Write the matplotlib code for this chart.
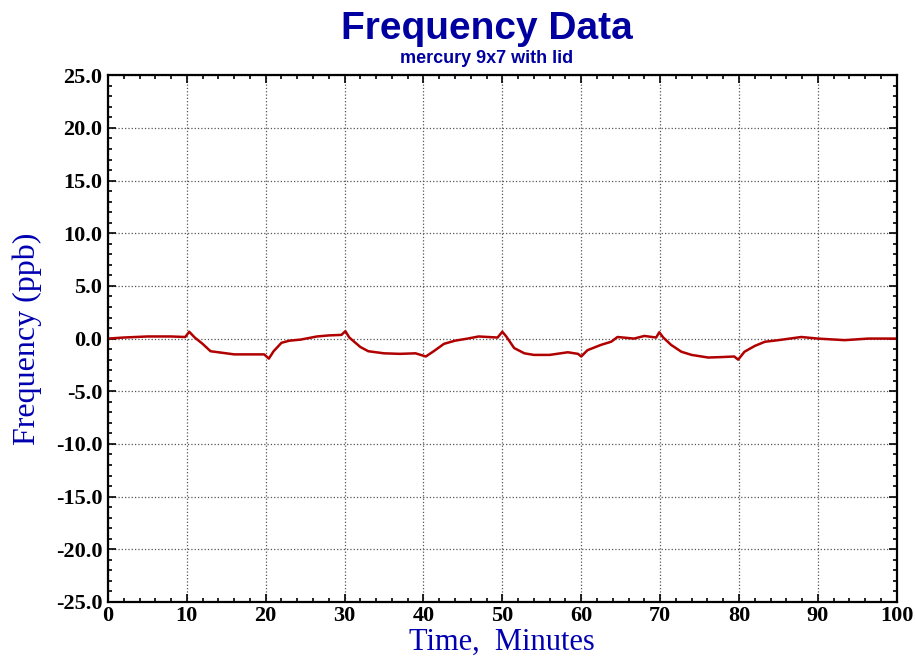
import numpy as np
import matplotlib.pyplot as plt
from matplotlib.ticker import MultipleLocator, FormatStrFormatter

# values (minutes, ppb)
minutes = [0, 2, 5, 8, 9.8, 10.3, 11, 12, 13, 14, 16, 18, 19.8, 20.4, 21, 22, 23,
           24.4, 26.5, 28, 29.6, 30.1, 30.6, 32, 33, 35, 37, 39, 40.3, 41.3, 42.6,
           44, 45.6, 47, 49.4, 50.0, 50.5, 51.5, 52.8, 54, 56, 58.3, 59.6, 60.0,
           60.8, 62.5, 63.8, 64.6, 66.7, 68, 69.5, 69.9, 70.4, 71.4, 72.7, 74,
           76.1, 78, 79.4, 79.9, 80.7, 82, 83.3, 85, 87.9, 90, 93.4, 96.4, 100]
freq = [0.0, 0.1, 0.2, 0.2, 0.15, 0.65, 0.1, -0.5, -1.2, -1.3, -1.5, -1.5, -1.5, -1.9,
        -1.2, -0.4, -0.2, -0.1, 0.2, 0.3, 0.35, 0.7, 0.1, -0.8, -1.2, -1.4, -1.45,
        -1.4, -1.7, -1.2, -0.5, -0.2, 0.0, 0.2, 0.1, 0.65, 0.2, -0.9, -1.4, -1.55,
        -1.55, -1.3, -1.45, -1.7, -1.1, -0.6, -0.3, 0.15, 0.0, 0.25, 0.1, 0.6,
        0.1, -0.6, -1.25, -1.55, -1.8, -1.75, -1.7, -2.0, -1.25, -0.7, -0.3, -0.15,
        0.15, 0.0, -0.15, 0.0, 0.0]

fig = plt.figure(figsize=(9.15, 6.6), dpi=100)
ax = fig.add_axes([0.118, 0.088, 0.862, 0.798])

ax.plot(minutes, freq, color='#b00000', linewidth=1.8)

ax.set_xlim(0, 100)
ax.set_ylim(-25, 25)
ax.xaxis.set_major_locator(MultipleLocator(10))
ax.xaxis.set_minor_locator(MultipleLocator(2))
ax.yaxis.set_major_locator(MultipleLocator(5))
ax.yaxis.set_minor_locator(MultipleLocator(1))
ax.yaxis.set_major_formatter(FormatStrFormatter('%.1f'))
ax.tick_params(which='both', direction='in', top=True, right=True, width=1.2)
ax.tick_params(which='major', length=6, pad=4)
ax.tick_params(axis='x', which='major', pad=3)
ax.tick_params(which='minor', length=3)
for lab in ax.get_xticklabels() + ax.get_yticklabels():
    lab.set_family('Liberation Serif')
    lab.set_fontweight('bold')
    lab.set_fontsize(16)
for sp in ax.spines.values():
    sp.set_linewidth(1.6)
ax.grid(True, which='major', linestyle=':', color='#555555', linewidth=0.9)

ax.set_xlabel('Time,  Minutes', family='Liberation Serif', fontsize=22,
              color='#0000b0', labelpad=1)
ax.set_ylabel('Frequency (ppb)', family='Liberation Serif', fontsize=23,
              color='#0000b0', labelpad=10)

fig.text(0.532, 0.941, 'Frequency Data', ha='center', va='baseline',
         family='Liberation Sans', fontweight='bold', fontsize=28, color='#0000a0')
fig.text(0.532, 0.904, 'mercury 9x7 with lid', ha='center', va='baseline',
         family='Liberation Sans', fontweight='bold', fontsize=13, color='#0000a0')

fig.savefig('out.png', dpi=100)
